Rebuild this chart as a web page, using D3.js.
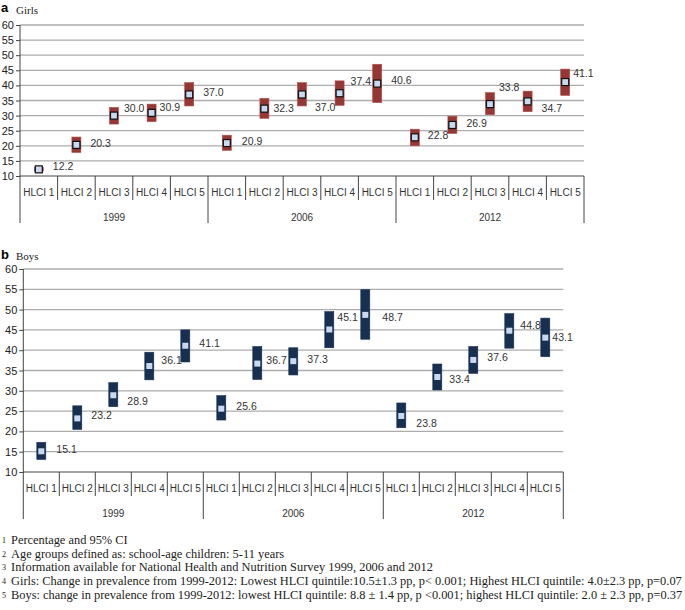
<!DOCTYPE html>
<html>
<head>
<meta charset="utf-8">
<script src="https://cdn.jsdelivr.net/npm/d3@7"></script>
<style>
  body { margin: 0; background: #fff; }
  svg { display: block; }
  .chart text { font-family: "Liberation Sans", Arial, sans-serif; fill: #333; }
  .serif { font-family: "Liberation Serif", "Times New Roman", serif !important; fill: #222 !important; }
</style>
</head>
<body>
<div id="chart"></div>
<script>
//categories
var years = ["1999", "2006", "2012"];
var quintiles = ["HLCI 1", "HLCI 2", "HLCI 3", "HLCI 4", "HLCI 5"];
var yTicks = [10, 15, 20, 25, 30, 35, 40, 45, 50, 55, 60];

//percentage and 95% CI (1999 x5, 2006 x5, 2012 x5)
var girlsPct = [12.2, 20.3, 30.0, 30.9, 37.0, 20.9, 32.3, 37.0, 37.4, 40.6, 22.8, 26.9, 33.8, 34.7, 41.1];
var girlsLow = [11.6, 17.8, 27.2, 28.0, 33.2, 18.5, 29.1, 33.2, 33.4, 34.3, 20.0, 24.1, 30.3, 31.3, 36.7];
var girlsHigh = [12.8, 22.9, 32.7, 33.8, 40.9, 23.5, 35.7, 40.9, 41.5, 47.0, 25.5, 29.8, 37.6, 38.1, 45.4];

var boysPct = [15.1, 23.2, 28.9, 36.1, 41.1, 25.6, 36.7, 37.3, 45.1, 48.7, 23.8, 33.4, 37.6, 44.8, 43.1];
var boysLow = [13.1, 20.5, 26.1, 32.7, 37.1, 22.8, 32.8, 33.9, 40.6, 42.7, 20.9, 30.2, 34.3, 40.5, 38.4];
var boysHigh = [17.3, 26.3, 32.0, 39.5, 45.0, 28.8, 40.9, 40.6, 49.5, 54.9, 27.0, 36.6, 40.9, 49.0, 47.9];

var footnotes = [
  "Percentage and 95% CI",
  "Age groups defined as: school-age children: 5-11 years",
  "Information available for National Health and Nutrition Survey 1999, 2006 and 2012",
  "Girls: Change in prevalence from 1999-2012: Lowest HLCI quintile:10.5\u00b11.3 pp, p< 0.001; Highest HLCI quintile: 4.0\u00b12.3 pp, p=0.07",
  "Boys: change in prevalence from 1999-2012: lowest HLCI quintile: 8.8 \u00b1 1.4 pp, p <0.001; highest HLCI quintile: 2.0 \u00b1 2.3 pp, p=0.37"
];

//hand placed data label nudges (px from the marker), like the excel original
var girlsNudge = [[14,-3],[14,-2],[10,-7],[8,-6],[14,-2],[15,-2],[9,0],[13,13],[11,-12],[14,-3],[13,-2],[14,-2],[9,-17],[14,7],[8,-9]];
var boysNudge = [[15,-2],[14,-3],[14,6],[12,-6],[14,-2],[15,-2],[9,-3],[14,-2],[8,-12],[17,2],[15,7],[12,2],[14,-3],[11,-5],[7,0]];

var width = 685,
  height = 610;

var svg = d3
  .select("#chart")
  .append("svg")
  .attr("class", "chart")
  .attr("width", width)
  .attr("height", height);

//one key per column: year|quintile
var keys = [];
years.forEach(function(y) {
  quintiles.forEach(function(q) {
    keys.push(y + "|" + q);
  });
});

function drawPanel(p) {
  var g = svg.append("g");

  var x = d3.scaleBand().domain(keys).range([p.left, p.right]).padding(0);
  var y = d3.scaleLinear().domain([10, 60]).range([p.bottom, p.top]);

  //panel letter and title
  g.append("text")
    .attr("x", 1)
    .attr("y", p.letterY)
    .style("font-size", "13px")
    .style("font-weight", "bold")
    .style("fill", "#000")
    .text(p.letter);
  g.append("text")
    .attr("class", "serif")
    .attr("x", 16)
    .attr("y", p.titleY)
    .style("font-size", "11px")
    .text(p.title);

  //gridlines
  g.selectAll(".grid")
    .data(yTicks.slice(1))
    .enter()
    .append("line")
    .attr("x1", p.left)
    .attr("x2", p.right)
    .attr("y1", function(d) { return y(d); })
    .attr("y2", function(d) { return y(d); })
    .attr("stroke", "#adadad")
    .attr("stroke-width", 1.3);

  //y axis
  var yAxis = g.append("g")
    .attr("transform", "translate(" + p.left + ",0)")
    .call(d3.axisLeft(y).tickValues(yTicks).tickSize(4).tickPadding(2).tickFormat(d3.format("d")));
  yAxis.select(".domain").attr("stroke", "#444").attr("d", "M0," + p.top + "V" + (p.bottom + 47));
  yAxis.selectAll(".tick line").attr("stroke", "#444");
  yAxis.selectAll(".tick text").style("font-size", "11px").style("fill", "#222");

  //category axis line
  g.append("line")
    .attr("x1", p.left)
    .attr("x2", p.right)
    .attr("y1", p.bottom)
    .attr("y2", p.bottom)
    .attr("stroke", "#444");

  //dividers between columns, longer between years
  var bounds = d3.range(1, keys.length + 1);
  g.selectAll(".div")
    .data(bounds)
    .enter()
    .append("line")
    .attr("x1", function(i) { return x(keys[0]) + i * x.bandwidth(); })
    .attr("x2", function(i) { return x(keys[0]) + i * x.bandwidth(); })
    .attr("y1", p.bottom)
    .attr("y2", function(i) { return i % 5 === 0 ? p.bottom + 47 : p.bottom + 24; })
    .attr("stroke", "#444");

  g.selectAll(".qlabel")
    .data(keys)
    .enter()
    .append("text")
    .attr("x", function(k) { return x(k) + x.bandwidth() / 2; })
    .attr("y", p.bottom + 16)
    .attr("dy", "0.35em")
    .attr("text-anchor", "middle")
    .style("font-size", "10px")
    .text(function(k) { return k.split("|")[1]; });

  g.selectAll(".ylabel")
    .data(years)
    .enter()
    .append("text")
    .attr("x", function(yr, i) { return x(yr + "|" + quintiles[2]) + x.bandwidth() / 2; })
    .attr("y", p.bottom + 41)
    .attr("dy", "0.35em")
    .attr("text-anchor", "middle")
    .style("font-size", "10px")
    .text(function(yr) { return yr; });

  //CI bars
  g.selectAll(".ci")
    .data(keys)
    .enter()
    .append("rect")
    .attr("x", function(k) { return x(k) + x.bandwidth() / 2 - 4.5; })
    .attr("width", 9)
    .attr("y", function(k, i) { return y(p.high[i]); })
    .attr("height", function(k, i) { return y(p.low[i]) - y(p.high[i]); })
    .attr("fill", p.color)
    .attr("stroke", p.edge)
    .attr("stroke-width", 0.6);

  //markers
  g.selectAll(".mk")
    .data(keys)
    .enter()
    .append("rect")
    .attr("x", function(k) { return x(k) + x.bandwidth() / 2 - p.mk / 2; })
    .attr("y", function(k, i) { return y(p.pct[i]) - p.mk / 2; })
    .attr("width", p.mk)
    .attr("height", p.mk)
    .attr("fill", "#c9daf0")
    .attr("stroke", p.mkStroke)
    .attr("stroke-width", 1.2);

  //value labels
  g.selectAll(".val")
    .data(keys)
    .enter()
    .append("text")
    .attr("x", function(k, i) { return x(k) + x.bandwidth() / 2 + p.nudge[i][0]; })
    .attr("y", function(k, i) { return y(p.pct[i]) + p.nudge[i][1]; })
    .attr("dy", "0.35em")
    .style("font-size", "10.5px")
    .text(function(k, i) { return p.pct[i].toFixed(1); });
}

drawPanel({
  letter: "a", letterY: 12, title: "Girls", titleY: 14,
  left: 20, right: 584, top: 25, bottom: 176,
  pct: girlsPct, low: girlsLow, high: girlsHigh, nudge: girlsNudge,
  color: "#953735", edge: "#b24a47", mk: 7, mkStroke: "#111"
});

drawPanel({
  letter: "b", letterY: 259, title: "Boys", titleY: 260,
  left: 23.3, right: 563.3, top: 269, bottom: 472,
  pct: boysPct, low: boysLow, high: boysHigh, nudge: boysNudge,
  color: "#172f50", edge: "#172f50", mk: 6, mkStroke: "none"
});

//footnotes
var notes = svg.append("g");
footnotes.forEach(function(t, i) {
  var yy = 544 + i * 13.7;
  notes.append("text")
    .attr("class", "serif")
    .attr("x", 2)
    .attr("y", yy - 1)
    .style("font-size", "8px")
    .text(i + 1);
  notes.append("text")
    .attr("class", "serif")
    .attr("x", 11)
    .attr("y", yy)
    .style("font-size", "12.4px")
    .text(t);
});
</script>
</body>
</html>
